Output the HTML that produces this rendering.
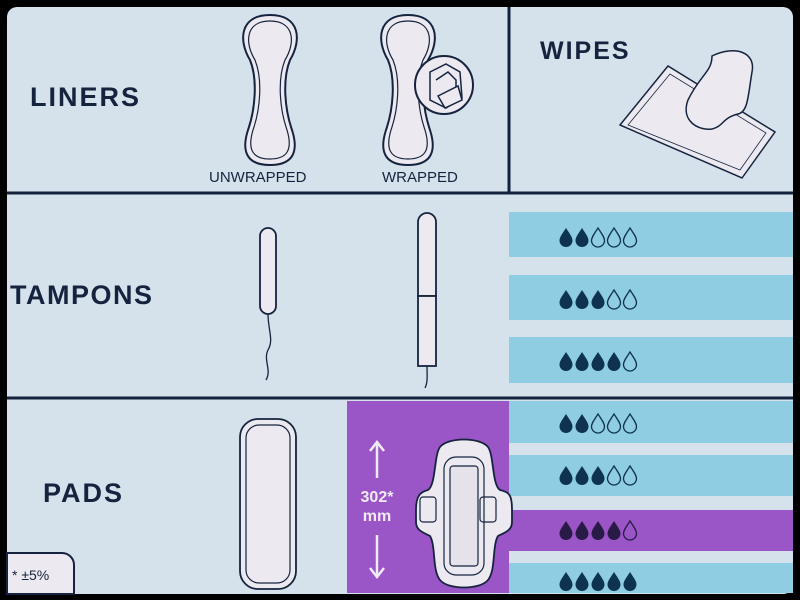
<!DOCTYPE html>
<html><head><style>
html,body{margin:0;padding:0;background:#000;}
svg{display:block;}
text{font-family:"Liberation Sans",sans-serif;}
</style></head><body>
<svg width="800" height="600" viewBox="0 0 800 600" xmlns="http://www.w3.org/2000/svg">
<defs>
<path id="d" d="M0,-9 C3.5,-3.5 6.5,0 6.5,3.5 A6.5,6.5 0 0 1 -6.5,3.5 C-6.5,0 -3.5,-3.5 0,-9Z"/>
<g id="dF"><use href="#d" fill="#0e3350"/></g>
<g id="dO"><use href="#d" fill="none" stroke="#0e3350" stroke-width="1.3"/></g>
</defs>
<rect x="0" y="0" width="800" height="600" fill="#000"/>
<rect x="7" y="7" width="786" height="587" rx="10" fill="#d5e2ec"/>
<line x1="7" y1="193" x2="793" y2="193" stroke="#14233d" stroke-width="3"/>
<line x1="7" y1="398" x2="793" y2="398" stroke="#14233d" stroke-width="3"/>
<line x1="509" y1="7" x2="509" y2="193" stroke="#14233d" stroke-width="3"/>
<text x="30" y="106" font-size="27" font-weight="bold" fill="#15233e" letter-spacing="2">LINERS</text>
<text x="10" y="304" font-size="27" font-weight="bold" fill="#15233e" letter-spacing="1.5">TAMPONS</text>
<text x="43" y="502" font-size="27" font-weight="bold" fill="#15233e" letter-spacing="2">PADS</text>
<text x="540" y="59" font-size="25" font-weight="bold" fill="#15233e" letter-spacing="2">WIPES</text>
<text x="209" y="182" font-size="15" fill="#15233e">UNWRAPPED</text>
<text x="382" y="182" font-size="15" fill="#15233e">WRAPPED</text>
<g fill="#eceaf0" stroke="#15233e" stroke-width="2">
<path d="M270,15 C300,15 302,40 290,60 C282,80 285,110 292,130 C300,155 290,165 270,165 C250,165 240,155 248,130 C255,110 258,80 250,60 C238,40 240,15 270,15Z"/>
<path d="M408,15 C438,15 440,40 428,60 C420,80 423,110 430,130 C438,155 428,165 408,165 C388,165 378,155 386,130 C393,110 396,80 388,60 C376,40 378,15 408,15Z"/>
</g>
<g fill="none" stroke="#15233e" stroke-width="1.2">
<path d="M270,21 C294,21 296,42 285,60 C277,80 280,110 287,130 C293,150 287,159 270,159 C253,159 247,150 253,130 C260,110 263,80 255,60 C244,42 246,21 270,21Z"/>
<path d="M408,21 C432,21 434,42 423,60 C415,80 418,110 425,130 C431,150 425,159 408,159 C391,159 385,150 391,130 C398,110 401,80 393,60 C382,42 384,21 408,21Z"/>
</g>
<circle cx="444" cy="85" r="29" fill="#eceaf0" stroke="#15233e" stroke-width="2"/>
<g fill="none" stroke="#15233e" stroke-width="1.5">
<path d="M430,72 L446,64 L460,72 L462,98 L446,108 L430,100Z"/>
<path d="M436,80 L448,72 L456,80 L456,95"/>
<path d="M438,96 L458,86 L462,100 L445,108Z" fill="#eceaf0"/>
</g>
<g fill="#eceaf0" stroke="#15233e" stroke-width="1.5">
<path d="M620,125 L668,66 L775,132 L742,178 Z"/>
<path d="M628,125 L670,74 L766,133 L740,170Z" fill="none" stroke-width="0.8"/>
<path d="M688,100 C700,75 712,72 712,56 C735,45 756,52 752,72 C748,96 748,112 738,114 C722,118 724,126 712,129 C700,131 680,122 688,100Z"/>
</g>
<g fill="#eceaf0" stroke="#15233e" stroke-width="1.8">
<rect x="260" y="228" width="16" height="86" rx="8"/>
<path d="M418,296 L418,222 A9,9 0 0 1 436,222 L436,296Z"/>
<rect x="418" y="296" width="18" height="70"/>
</g>
<g fill="none" stroke="#15233e" stroke-width="1.3">
<path d="M268,314 C268,330 274,340 268,350 C263,360 272,370 266,380"/>
<path d="M427,366 C427,376 428,382 425,388"/>
</g>
<rect x="240" y="419" width="56" height="170" rx="18" fill="#eceaf0" stroke="#15233e" stroke-width="1.8"/>
<rect x="246" y="425" width="44" height="158" rx="13" fill="none" stroke="#15233e" stroke-width="1.2"/>
<rect x="347" y="401" width="162" height="192" fill="#9a55c6"/>
<rect x="509" y="510" width="284" height="41" fill="#9a55c6"/>
<g fill="#8fcde2">
<rect x="509" y="212" width="284" height="45"/>
<rect x="509" y="275" width="284" height="45"/>
<rect x="509" y="337" width="284" height="46"/>
<rect x="509" y="401" width="284" height="42"/>
<rect x="509" y="455" width="284" height="41"/>
<rect x="509" y="563" width="284" height="30"/>
</g>
<path d="M440,447 C448,437 480,437 488,447 C494,455 492,485 500,490 C510,492 512,496 512,510 L512,522 C512,530 506,532 498,536 C492,546 496,570 488,580 C480,590 448,590 440,580 C432,570 436,546 430,536 C422,532 416,530 416,522 L416,510 C416,496 420,492 428,490 C436,485 434,455 440,447Z" fill="#eceaf0" stroke="#15233e" stroke-width="1.8"/>
<rect x="444" y="457" width="40" height="118" rx="12" fill="none" stroke="#15233e" stroke-width="1.2"/>
<rect x="450" y="466" width="28" height="100" rx="3" fill="#e6e2ec" stroke="#15233e" stroke-width="1.2"/>
<rect x="420" y="497" width="16" height="25" rx="3" fill="none" stroke="#15233e" stroke-width="1.2"/>
<rect x="480" y="497" width="16" height="25" rx="3" fill="none" stroke="#15233e" stroke-width="1.2"/>
<g stroke="#f0eaf6" stroke-width="2.5" fill="none">
<line x1="377" y1="444" x2="377" y2="478"/><path d="M370,451 L377,442 L384,451"/>
<line x1="377" y1="535" x2="377" y2="575"/><path d="M370,568 L377,577 L384,568"/>
</g>
<text x="377" y="502" font-size="16" font-weight="bold" fill="#f0eaf6" text-anchor="middle">302*</text>
<text x="377" y="521" font-size="16" font-weight="bold" fill="#f0eaf6" text-anchor="middle">mm</text>
<path d="M7,553 L62,553 A12,12 0 0 1 74,565 L74,594 L7,594Z" fill="#eceaf0" stroke="#15233e" stroke-width="2"/>
<text x="12" y="580" font-size="14" fill="#15233e">* ±5%</text>
<g transform="translate(566,237)"><use href="#dF"/><use href="#dF" x="16"/><use href="#dO" x="32"/><use href="#dO" x="48"/><use href="#dO" x="64"/></g>
<g transform="translate(566,299)"><use href="#dF"/><use href="#dF" x="16"/><use href="#dF" x="32"/><use href="#dO" x="48"/><use href="#dO" x="64"/></g>
<g transform="translate(566,361)"><use href="#dF"/><use href="#dF" x="16"/><use href="#dF" x="32"/><use href="#dF" x="48"/><use href="#dO" x="64"/></g>
<g transform="translate(566,423)"><use href="#dF"/><use href="#dF" x="16"/><use href="#dO" x="32"/><use href="#dO" x="48"/><use href="#dO" x="64"/></g>
<g transform="translate(566,475)"><use href="#dF"/><use href="#dF" x="16"/><use href="#dF" x="32"/><use href="#dO" x="48"/><use href="#dO" x="64"/></g>
<g transform="translate(566,530)"><use href="#d" fill="#2a1a48"/><use href="#d" x="16" fill="#2a1a48"/><use href="#d" x="32" fill="#2a1a48"/><use href="#d" x="48" fill="#2a1a48"/><use href="#d" x="64" fill="none" stroke="#2a1a48" stroke-width="1.3"/></g>
<g transform="translate(566,581)"><use href="#dF"/><use href="#dF" x="16"/><use href="#dF" x="32"/><use href="#dF" x="48"/><use href="#dF" x="64"/></g>
</svg>
</body></html>
